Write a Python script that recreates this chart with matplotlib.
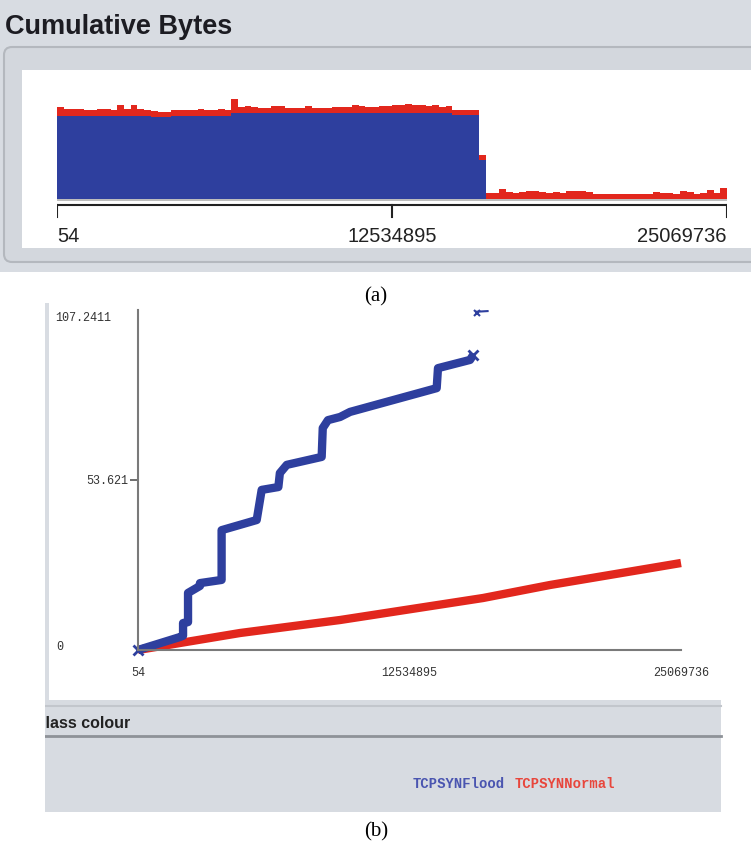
import numpy as np
import matplotlib
matplotlib.use("Agg")
from matplotlib import pyplot as plt
from matplotlib.patches import Rectangle, FancyBboxPatch

W, H = 751, 852

# ---- panel (a): cumulative bytes histogram (stacked counts per bin)
x_min, x_max = 54, 25069736
x_mid = 12534895
blue_hist = [83]*14 + [82]*3 + [83]*9 + [86]*33 + [84]*4 + [39] + [0]*36
red_hist = [9, 7, 7, 7, 6, 6, 7, 7, 6, 11, 7, 11, 7, 6, 6, 5, 5, 6, 6, 6,
            6, 7, 6, 6, 7, 6, 14, 6, 7, 6, 5, 5, 7, 7, 5, 5, 5, 7, 5, 5,
            5, 6, 6, 6, 8, 7, 6, 6, 7, 7, 8, 8, 9, 8, 8, 7, 8, 6, 7, 5,
            5, 5, 5, 5,
            6, 6, 10, 7, 6, 7, 8, 8, 7, 6, 7, 6, 8, 8, 8, 7, 5, 5, 5, 5,
            5, 5, 5, 5, 5, 7, 6, 6, 5, 8, 7, 5, 6, 9, 6, 11]

# ---- panel (b): cumulative curves per class
flood_x = [54, 1.94e6, 2.08e6, 2.08e6, 2.31e6, 2.31e6, 2.86e6, 2.86e6, 3.86e6,
           3.86e6, 5.48e6, 5.71e6, 6.48e6, 6.55e6, 6.87e6, 8.48e6, 8.53e6,
           8.77e6, 9.33e6, 9.79e6, 13.79e6, 13.85e6, 15.33e6, 15.47e6]
flood_y = [0, 4.1, 4.5, 8.5, 8.8, 18.0, 20.2, 21.1, 22.1,
           37.8, 41.0, 50.5, 51.4, 55.8, 58.4, 60.9, 70.0,
           72.5, 73.5, 75.1, 82.6, 88.9, 91.5, 93.0]
flood_stray_x, flood_stray_y = 15.64e6, 106.3
normal_x = [54, 4.71e6, 9.33e6, 15.93e6, 19.02e6, 25.07e6]
normal_y = [0, 5.36, 9.46, 16.40, 20.50, 27.44]
y_ticks = [0, 53.621, 107.2411]
x_ticks = [x_min, x_mid, x_max]
classes = ["TCPSYNFlood", "TCPSYNNormal"]

blue = "#2e3f9e"
red = "#e2271d"


def box(x0, y0, x1, y1):
    return [x0 / W, 1 - y1 / H, (x1 - x0) / W, (y1 - y0) / H]


fig = plt.figure(figsize=(W / 100, H / 100), dpi=100)
fig.patch.set_facecolor("white")

# background "screenshot" chrome in pixel coords
bg = fig.add_axes([0, 0, 1, 1])
bg.set_xlim(0, W)
bg.set_ylim(H, 0)
bg.axis("off")

bg.add_patch(Rectangle((0, 0), W, 272, color="#d8dce2", lw=0))
bg.add_patch(FancyBboxPatch((4, 47), 770, 215, boxstyle="round,pad=0,rounding_size=8",
                            fc="#d3d7dd", ec="#b4b8be", lw=1.5))
bg.add_patch(Rectangle((22, 70), 729, 178, color="white", lw=0))
bg.text(5, 27, "Cumulative Bytes", fontsize=19.5, fontweight="bold",
        family="Liberation Sans", color="#1c1c22", va="center", ha="left")
bg.text(376, 297, "(a)", fontsize=15, family="Liberation Serif", ha="center", va="center")

bg.add_patch(Rectangle((45, 303), 4, 400, color="#d8dce2", lw=0))
bg.add_patch(Rectangle((45, 700), 676, 112, color="#d7dbe1", lw=0))
bg.plot([45, 721], [706, 706], color="#c2c6cc", lw=1.5)
bg.plot([45, 721], [736, 736], color="#8e9298", lw=2)
bg.text(34, 724, "Class colour", fontsize=11.5, fontweight="bold",
        family="Liberation Sans", color="#222", va="center", ha="left")
# screenshot crop hides the start of the header
bg.add_patch(Rectangle((0, 700), 45, 112, color="white", lw=0, zorder=5))
bg.text(376, 832, "(b)", fontsize=15, family="Liberation Serif", ha="center", va="center")

# legend of class colours
bg.text(413, 784, classes[0], fontsize=10, family="Liberation Mono", fontweight="bold",
        color="#4a55b0", va="center", ha="left")
bg.text(515, 784, classes[1], fontsize=10, family="Liberation Mono", fontweight="bold",
        color="#e8463c", va="center", ha="left")

# ---- histogram axes
ax_a = fig.add_axes(box(57, 90, 727, 220))
ax_a.set_facecolor("none")
edges = np.linspace(x_min, x_max, len(blue_hist) + 1)
bw = edges[1] - edges[0]
ax_a.bar(edges[:-1], blue_hist, width=bw, align="edge", color=blue, lw=0)
ax_a.bar(edges[:-1], red_hist, width=bw, bottom=blue_hist, align="edge", color=red, lw=0)
ax_a.plot([x_min, x_max], [-0.5, -0.5], color="#b0b0b0", lw=1.2)
ax_a.plot([x_min, x_max], [-6, -6], color="#222", lw=1.5)
for xt in x_ticks:
    ax_a.plot([xt, xt], [-6, -18], color="#222", lw=1.5)
lab = dict(va="center", fontsize=14.5, family="Liberation Sans", color="#222")
ax_a.text(x_min, -37, "54", ha="left", **lab)
ax_a.text(x_mid, -37, str(x_mid), ha="center", **lab)
ax_a.text(x_max, -37, str(x_max), ha="right", **lab)
ax_a.set_xlim(x_min, x_max)
ax_a.set_ylim(-21, 109)
ax_a.axis("off")

# ---- line axes
ax_b = fig.add_axes(box(138, 310, 681, 650))
ax_b.set_facecolor("none")
ax_b.plot(normal_x, normal_y, color=red, lw=6, solid_capstyle="butt", clip_on=False)
ax_b.plot(flood_x, flood_y, color=blue, lw=6, solid_capstyle="butt", clip_on=False)
ax_b.plot([flood_x[0], flood_x[-1]], [flood_y[0], flood_y[-1]], "x", color=blue, ms=7, mew=2, clip_on=False)
ax_b.plot([flood_stray_x], [flood_stray_y], "x", color=blue, ms=5, mew=1.5, clip_on=False)
ax_b.plot([flood_stray_x, flood_stray_x + 0.5e6], [flood_stray_y + 0.4, flood_stray_y + 0.6],
          color=blue, lw=1.5, clip_on=False)
ax_b.set_xlim(x_min, x_max)
ax_b.set_ylim(y_ticks[0], y_ticks[-1])
for s in ["top", "right"]:
    ax_b.spines[s].set_visible(False)
for s in ["left", "bottom"]:
    ax_b.spines[s].set_color("#7a7a7a")
    ax_b.spines[s].set_linewidth(1.5)
mono = dict(family="Liberation Mono", fontsize=8.5, color="#333")
ax_b.set_xticks(x_ticks)
ax_b.set_xticklabels([str(v) for v in x_ticks], **mono)
ax_b.tick_params(axis="x", length=0, pad=12)
ax_b.set_xticks([x_mid], minor=True)
ax_b.tick_params(axis="x", which="minor", length=5, color="#555", width=1.2)
ax_b.set_yticks([y_ticks[1]])
ax_b.set_yticklabels([str(y_ticks[1])], **mono)
ax_b.tick_params(axis="y", length=6, pad=1, color="#555", width=1.2)
ax_b.text(-0.153, y_ticks[-1] - 2.5, str(y_ticks[-1]), transform=ax_b.get_yaxis_transform(),
          ha="left", va="center", **mono)
ax_b.text(-0.15, y_ticks[0] + 1, "0", transform=ax_b.get_yaxis_transform(),
          ha="left", va="center", **mono)

fig.savefig("out.png", dpi=100)
